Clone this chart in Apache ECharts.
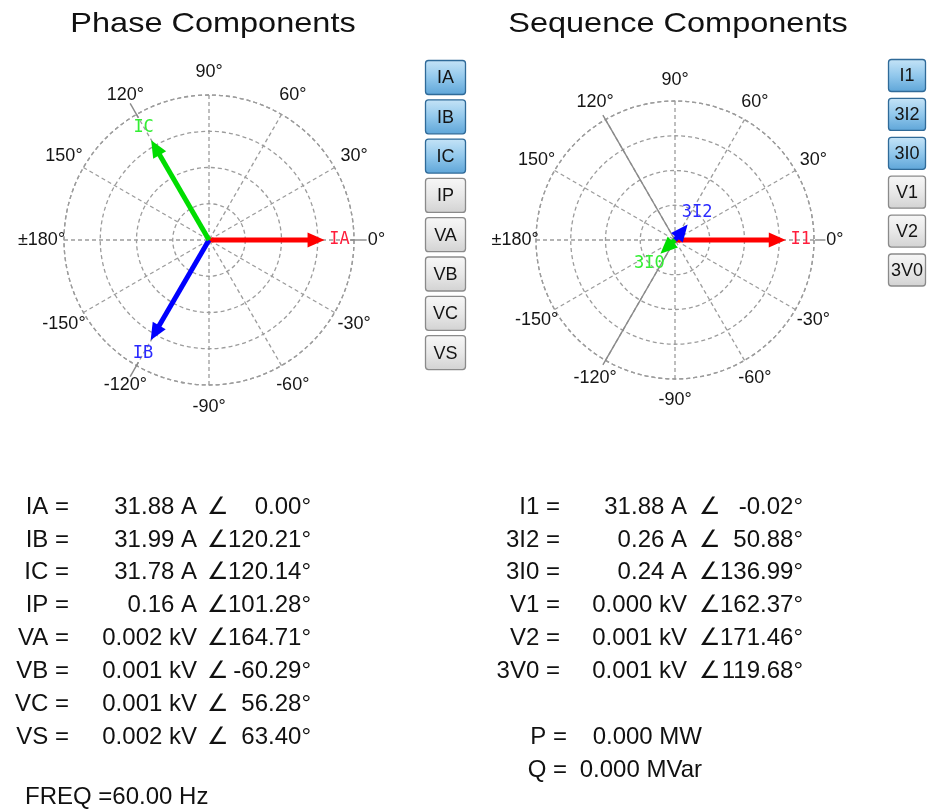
<!DOCTYPE html>
<html><head><meta charset="utf-8">
<script src="https://cdn.jsdelivr.net/npm/echarts@6/dist/echarts.min.js"></script>
<style>html,body{margin:0;padding:0;background:#fff}#c{width:927px;height:810px}</style>
</head><body><div id="c"></div>
<script>
// ---- vector data ----
const phaseNames = ['IA', 'IB', 'IC'];
const phaseMags = [31.88, 31.99, 31.78];
const phaseAngles = [0, -120.21, 120.14];
const seqNames = ['I1', '3I2', '3I0'];
const seqMags = [31.88, 0.26, 0.24];
const seqAngles = [-0.02, 50.88, -136.99];
const arrowColors = ['#ff0000', '#0000ff', '#00dd00'];
const labelColors = ['#ff1e3c', '#2a2aff', '#33ee33'];

// reference marks
const phaseRefTicks = [0, 120, -120];
const seqRefTicks = [0];
const seqRefRays = [120, -120];

// axis scale and tick labels
const radiusMax = 40;
const radiusStep = 10;
const angleStep = 30;
const angleTicks = [-180, -150, -120, -90, -60, -30, 0, 30, 60, 90, 120, 150];
const angleTickLabels = ['±180°', '-150°', '-120°', '-90°', '-60°', '-30°', '0°', '30°', '60°', '90°', '120°', '150°'];

// ---- tables ----
const phaseRowLabels = ['IA =', 'IB =', 'IC =', 'IP =', 'VA =', 'VB =', 'VC =', 'VS ='];
const phaseRowValues = ['31.88 A', '31.99 A', '31.78 A', '0.16 A', '0.002 kV', '0.001 kV', '0.001 kV', '0.002 kV'];
const phaseRowAngles = ['0.00°', '120.21°', '120.14°', '101.28°', '164.71°', '-60.29°', '56.28°', '63.40°'];
const seqRowLabels = ['I1 =', '3I2 =', '3I0 =', 'V1 =', 'V2 =', '3V0 ='];
const seqRowValues = ['31.88 A', '0.26 A', '0.24 A', '0.000 kV', '0.001 kV', '0.001 kV'];
const seqRowAngles = ['-0.02°', '50.88°', '136.99°', '162.37°', '171.46°', '119.68°'];
const powerLabels = ['P =', 'Q ='];
const powerValues = ['0.000 MW', '0.000 MVar'];
const freqText = 'FREQ =60.00 Hz';

// ---- buttons ----
const phaseButtons = ['IA', 'IB', 'IC', 'IP', 'VA', 'VB', 'VC', 'VS'];
const phaseButtonsOn = [true, true, true, false, false, false, false, false];
const seqButtons = ['I1', '3I2', '3I0', 'V1', 'V2', '3V0'];
const seqButtonsOn = [true, true, true, false, false, false];

const titles = ['Phase Components', 'Sequence Components'];

const SANS = '"Liberation Sans", Arial, sans-serif';
const gridStyle = { color: '#9c9c9c', type: [4, 3], width: 1.3 };

function polarAxes(idx) {
  return {
    radius: {
      polarIndex: idx, type: 'value', min: 0, max: radiusMax, interval: radiusStep,
      axisLine: { show: false }, axisTick: { show: false }, axisLabel: { show: false },
      splitLine: { show: true, lineStyle: gridStyle }
    },
    angle: {
      polarIndex: idx, type: 'value', min: -180, max: 180, interval: angleStep,
      startAngle: 180, clockwise: false,
      axisLine: { show: true, lineStyle: gridStyle },
      axisTick: { show: false },
      axisLabel: { show: false },
      splitLine: { show: true, lineStyle: gridStyle }
    }
  };
}
const ax0 = polarAxes(0);
const ax1 = polarAxes(1);

function unitDir(api, a) {
  const c = api.coord([0, a]);
  const f = api.coord([radiusMax, a]);
  let dx = f[0] - c[0], dy = f[1] - c[1];
  const L = Math.hypot(dx, dy) || 1;
  return { c, dx: dx / L, dy: dy / L };
}

function arrowSeries(polarIndex, names, mags, angles) {
  return {
    type: 'custom', coordinateSystem: 'polar', polarIndex: polarIndex, z: 10, silent: true,
    data: mags.map((m, i) => [m, angles[i]]),
    renderItem: function (params, api) {
      const i = params.dataIndex;
      const r = api.value(0), a = api.value(1);
      const d = unitDir(api, a);
      const p = api.coord([r, a]);
      const headLen = 17, headHalf = 7.5;
      let len = Math.hypot(p[0] - d.c[0], p[1] - d.c[1]);
      len = Math.max(len, 20);
      const tip = [d.c[0] + d.dx * len, d.c[1] + d.dy * len];
      const base = [tip[0] - d.dx * headLen, tip[1] - d.dy * headLen];
      const nx = -d.dy, ny = d.dx;
      const col = arrowColors[i];
      const children = [];
      if (len > headLen + 1) {
        children.push({
          type: 'line',
          shape: { x1: d.c[0], y1: d.c[1], x2: base[0] + d.dx * 2, y2: base[1] + d.dy * 2 },
          style: { stroke: col, lineWidth: 5, lineCap: 'butt' }
        });
      }
      children.push({
        type: 'polygon',
        shape: { points: [tip, [base[0] + nx * headHalf, base[1] + ny * headHalf], [base[0] - nx * headHalf, base[1] - ny * headHalf]] },
        style: { fill: col }
      });
      children.push({
        type: 'text',
        x: tip[0] + d.dx * 15, y: tip[1] + d.dy * 15,
        style: { text: names[i], font: '17px "DejaVu Sans Mono", monospace', fill: labelColors[i], align: 'center', verticalAlign: 'middle' }
      });
      return { type: 'group', children: children };
    }
  };
}

function refSeries(polarIndex, angles, r0, r1) {
  return {
    type: 'custom', coordinateSystem: 'polar', polarIndex: polarIndex, z: 5, silent: true,
    data: angles.map(a => [r1, a]),
    renderItem: function (params, api) {
      const a = api.value(1);
      const p0 = api.coord([r0, a]);
      const p1 = api.coord([api.value(0), a]);
      return {
        type: 'line',
        shape: { x1: p0[0], y1: p0[1], x2: p1[0], y2: p1[1] },
        style: { stroke: '#8a8a8a', lineWidth: 1.4 }
      };
    }
  };
}

// angle tick labels, placed through the polar scale at a radius beyond the rim
function angleLabelSeries(polarIndex, rLabel) {
  return {
    type: 'custom', coordinateSystem: 'polar', polarIndex: polarIndex, z: 6, silent: true,
    data: angleTicks.map(a => [rLabel, a]),
    renderItem: function (params, api) {
      const p = api.coord([api.value(0), api.value(1)]);
      return {
        type: 'text', x: p[0], y: p[1],
        style: { text: angleTickLabels[params.dataIndex], font: '18px ' + SANS, fill: '#151515', align: 'center', verticalAlign: 'middle' }
      };
    }
  };
}

// ---- graphics ----
const graphics = [];
function addText(text, x, y, font, align, color, scaleX) {
  graphics.push({
    type: 'text', x: x, y: y, silent: true, scaleX: scaleX || 1,
    style: { text: text, font: font, fill: color || '#111', align: align, verticalAlign: 'middle' }
  });
}
addText(titles[0], 213, 24, '28px ' + SANS, 'center', '#111', 1.16);
addText(titles[1], 678, 24, '28px ' + SANS, 'center', '#111', 1.16);

const tableFont = '24px ' + SANS;
const rowY0 = 507, rowPitch = 32.9;
function addTable(labels, values, angles, xLab, xVal, xAng, xAngR) {
  labels.forEach((t, i) => {
    const y = rowY0 + i * rowPitch;
    addText(t, xLab, y, tableFont, 'right');
    addText(values[i], xVal, y, tableFont, 'right');
    addText('∠', xAng, y, tableFont, 'left');
    addText(angles[i], xAngR, y, tableFont, 'right');
  });
}
addTable(phaseRowLabels, phaseRowValues, phaseRowAngles, 69, 197, 207, 311);
addTable(seqRowLabels, seqRowValues, seqRowAngles, 560, 687, 699, 803);
powerLabels.forEach((t, i) => {
  const y = rowY0 + (7 + i) * rowPitch;
  addText(t, 567, y, tableFont, 'right');
  addText(powerValues[i], 702, y, tableFont, 'right');
});
addText(freqText, 25, 797, tableFont, 'left');

const gradOn = { type: 'linear', x: 0, y: 0, x2: 0, y2: 1, colorStops: [
  { offset: 0, color: '#c6e4f7' }, { offset: 0.5, color: '#92c8ec' }, { offset: 1, color: '#5ea5d8' }] };
const gradOff = { type: 'linear', x: 0, y: 0, x2: 0, y2: 1, colorStops: [
  { offset: 0, color: '#f7f7f7' }, { offset: 0.5, color: '#e8e8e8' }, { offset: 1, color: '#d2d2d2' }] };
function addButtons(labels, on, x, y0, w, h, pitch) {
  labels.forEach((t, i) => {
    const y = y0 + i * pitch;
    graphics.push({
      type: 'rect', silent: true,
      shape: { x: x, y: y, width: w, height: h, r: 3 },
      style: { fill: on[i] ? gradOn : gradOff, stroke: on[i] ? '#2f6a98' : '#8a8a8a', lineWidth: 1.3 }
    });
    addText(t, x + w / 2, y + h / 2 + 1, '18px ' + SANS, 'center', '#141414');
  });
}
addButtons(phaseButtons, phaseButtonsOn, 425.5, 60.5, 40, 34, 39.3);
addButtons(seqButtons, seqButtonsOn, 888.5, 59.5, 37, 32, 38.9);

const chart = echarts.init(document.getElementById('c'), null, { renderer: 'canvas' });
chart.setOption({
  backgroundColor: '#ffffff',
  animation: false,
  polar: [
    { center: [209, 240], radius: 145 },
    { center: [675, 240], radius: 139 }
  ],
  radiusAxis: [ax0.radius, ax1.radius],
  angleAxis: [ax0.angle, ax1.angle],
  series: [
    refSeries(0, phaseRefTicks, 39, 43.5),
    refSeries(1, seqRefTicks, 40.3, 43.3),
    refSeries(1, seqRefRays, 0, 41.5),
    angleLabelSeries(0, 46.2),
    angleLabelSeries(1, 46),
    arrowSeries(0, phaseNames, phaseMags, phaseAngles),
    arrowSeries(1, seqNames, seqMags, seqAngles)
  ],
  graphic: graphics
});
</script>
</body></html>
